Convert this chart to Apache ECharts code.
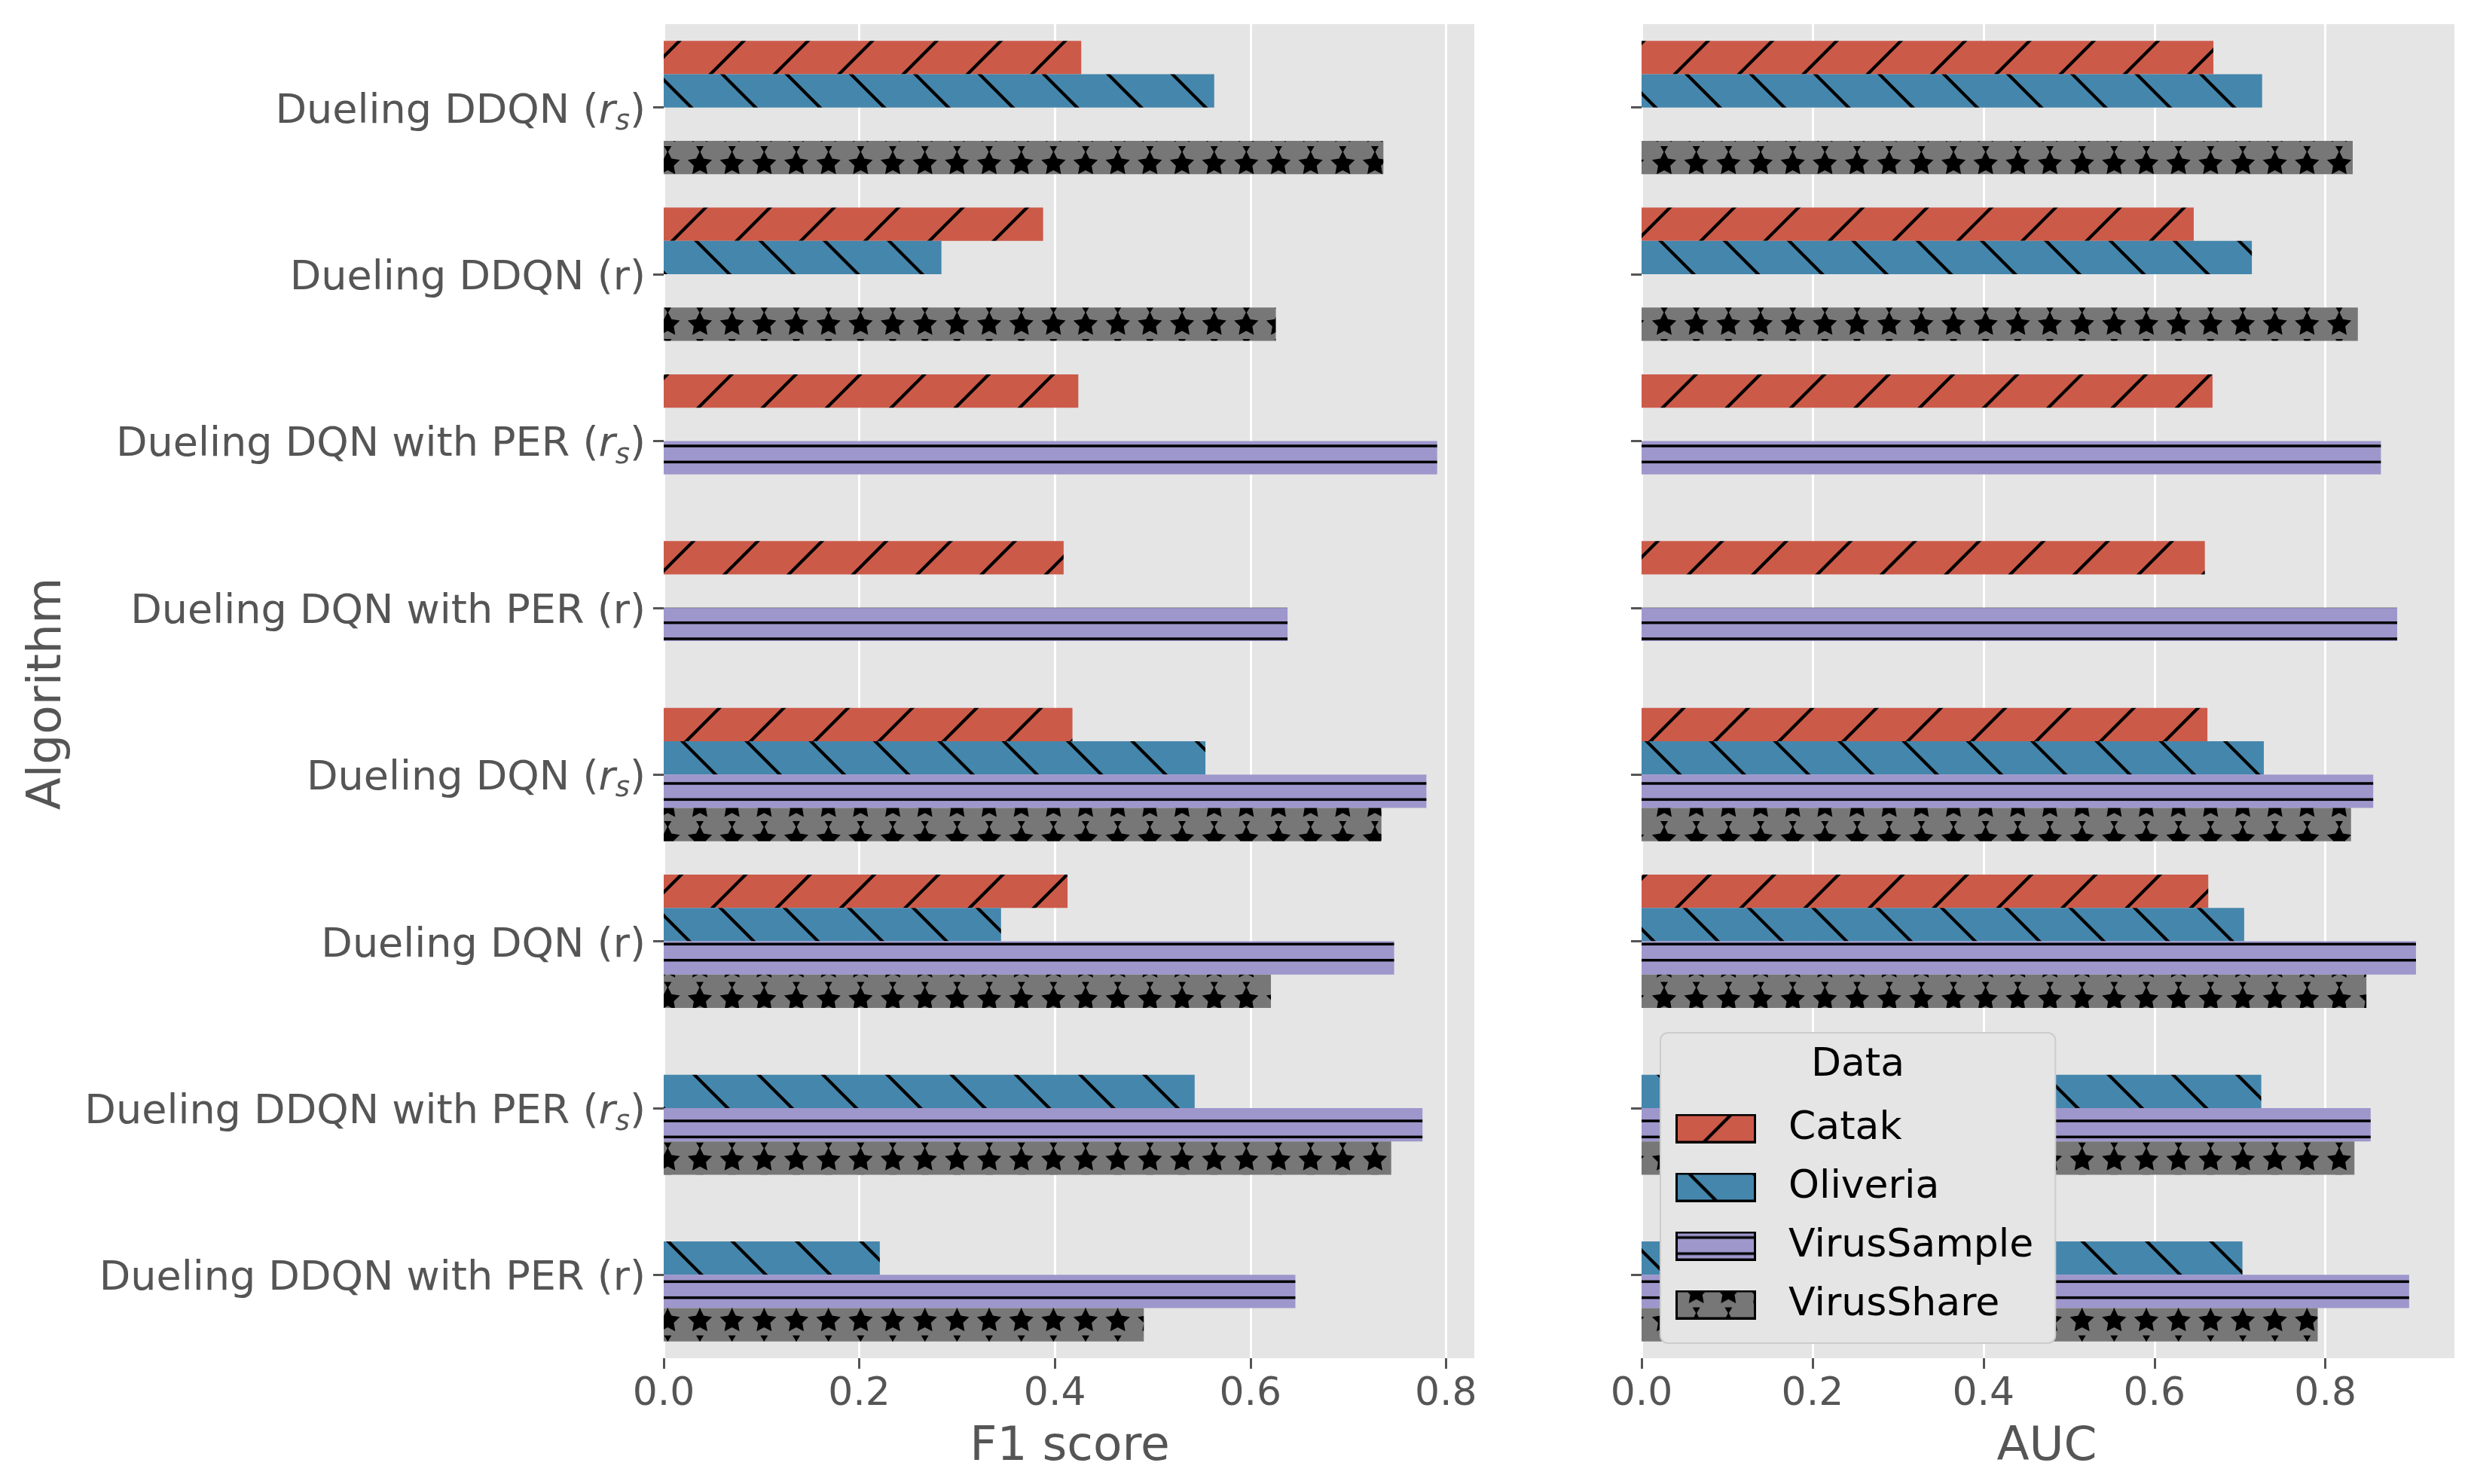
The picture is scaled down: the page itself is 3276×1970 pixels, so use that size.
<!DOCTYPE html>
<html><head><meta charset="utf-8">
<script src="https://cdn.jsdelivr.net/npm/echarts@6/dist/echarts.min.js"></script>
<style>html,body{margin:0;padding:0;background:#fff}#c{width:3276px;height:1970px}</style>
</head><body><div id="c"></div>
<script>
// ---------------- data ----------------
const categories = [
  'Dueling DDQN (r_s)',
  'Dueling DDQN (r)',
  'Dueling DQN with PER (r_s)',
  'Dueling DQN with PER (r)',
  'Dueling DQN (r_s)',
  'Dueling DQN (r)',
  'Dueling DDQN with PER (r_s)',
  'Dueling DDQN with PER (r)'
];
const datasetNames = ['Catak', 'Oliveria', 'VirusSample', 'VirusShare'];

const f1Catak       = [0.427, 0.388, 0.424, 0.409, 0.418, 0.413, null, null];
const f1Oliveria    = [0.563, 0.284, null, null, 0.554, 0.345, 0.543, 0.221];
const f1VirusSample = [null, null, 0.791, 0.638, 0.780, 0.747, 0.776, 0.646];
const f1VirusShare  = [0.736, 0.626, null, null, 0.734, 0.621, 0.744, 0.491];

const aucCatak       = [0.669, 0.646, 0.668, 0.659, 0.662, 0.663, null, null];
const aucOliveria    = [0.726, 0.714, null, null, 0.728, 0.705, 0.725, 0.703];
const aucVirusSample = [null, null, 0.865, 0.884, 0.856, 0.906, 0.853, 0.898];
const aucVirusShare  = [0.832, 0.838, null, null, 0.830, 0.848, 0.834, 0.791];

const f1Ticks  = [0, 0.2, 0.4, 0.6, 0.8];
const aucTicks = [0, 0.2, 0.4, 0.6, 0.8];

const xTitleLeft = 'F1 score';
const xTitleRight = 'AUC';
const yTitle = 'Algorithm';
const legendTitle = 'Data';

// ---------------- styling ----------------
const FONT = 'DejaVu Sans';
const colors = { Catak: '#CC5A49', Oliveria: '#4586AC', VirusSample: '#9E97CC', VirusShare: '#777777' };
const hatches = { Catak: '/', Oliveria: '\\', VirusSample: '-', VirusShare: '*' };

const T = 256;
const P_DIAG = T / 3, P_H = T / 12, P_STAR = T / 6;

function starPath(g, cx, cy, R, r) {
  g.beginPath();
  for (let i = 0; i < 10; i++) {
    const a = -Math.PI / 2 + i * Math.PI / 5;
    const rad = i % 2 === 0 ? R : r;
    const x = cx + rad * Math.cos(a), y = cy + rad * Math.sin(a);
    if (i === 0) g.moveTo(x, y); else g.lineTo(x, y);
  }
  g.closePath();
  g.fill();
}

function wedge(g, cx, yTop, yBot, halfW) {
  g.beginPath();
  g.moveTo(cx - halfW, yTop);
  g.lineTo(cx + halfW, yTop);
  g.lineTo(cx, yBot);
  g.closePath();
  g.fill();
}

function drawHatch(g, kind, w, h, ox, oy) {
  g.save();
  g.fillStyle = '#000';
  g.strokeStyle = '#000';
  if (kind === '/') {
    g.lineWidth = 4.2;
    const c0 = 17.5 - ox - oy;
    const kmin = Math.floor((-P_DIAG - c0) / P_DIAG) - 1;
    const kmax = Math.ceil((w + h + P_DIAG - c0) / P_DIAG) + 1;
    for (let k = kmin; k <= kmax; k++) {
      const c = c0 + k * P_DIAG;
      g.beginPath(); g.moveTo(c + 30, -30); g.lineTo(c - h - 30, h + 30); g.stroke();
    }
  } else if (kind === '\\') {
    g.lineWidth = 4.2;
    const c0 = 7 - ox + oy;
    const kmin = Math.floor((-h - P_DIAG - c0) / P_DIAG) - 1;
    const kmax = Math.ceil((w + P_DIAG - c0) / P_DIAG) + 1;
    for (let k = kmin; k <= kmax; k++) {
      const c = c0 + k * P_DIAG;
      g.beginPath(); g.moveTo(c - 30, -30); g.lineTo(c + h + 30, h + 30); g.stroke();
    }
  } else if (kind === '-') {
    const y0 = 16 - oy;
    const kmin = Math.floor((-P_H - y0) / P_H) - 1;
    const kmax = Math.ceil((h + P_H - y0) / P_H) + 1;
    for (let k = kmin; k <= kmax; k++) {
      const y = y0 + k * P_H;
      g.fillRect(0, y - 1.75, w, 3.5);
    }
  } else if (kind === '*') {
    const x0 = 33 - ox, y0 = 4.07 - oy;
    const R = 17;
    const imin = Math.floor((-P_STAR - x0) / P_STAR) - 1, imax = Math.ceil((w + P_STAR - x0) / P_STAR) + 1;
    const jmin = Math.floor((-P_STAR - y0) / P_STAR) - 1, jmax = Math.ceil((h + P_STAR - y0) / P_STAR) + 1;
    for (let i = imin; i <= imax; i++) {
      for (let j = jmin; j <= jmax; j++) {
        const cx = x0 + i * P_STAR, cy = y0 + j * P_STAR;
        starPath(g, cx, cy, R, R * 0.5);
        wedge(g, cx, cy - P_STAR / 2 - 2, cy - R + 2, 5);
      }
    }
  }
  g.restore();
}

function makeTile(name) {
  const c = document.createElement('canvas');
  c.width = T; c.height = T;
  const g = c.getContext('2d');
  g.fillStyle = colors[name];
  g.fillRect(0, 0, T, T);
  drawHatch(g, hatches[name], T, T, 0, 0);
  return c;
}

function makeIcon(name, ox, oy) {
  const w = 107, h = 39;
  const c = document.createElement('canvas');
  c.width = w; c.height = h;
  const g = c.getContext('2d');
  g.fillStyle = colors[name];
  g.fillRect(0, 0, w, h);
  g.save(); g.beginPath(); g.rect(0, 0, w, h); g.clip();
  drawHatch(g, hatches[name], w, h, ox, oy);
  g.restore();
  g.strokeStyle = '#000';
  g.lineWidth = 3;
  g.strokeRect(1.5, 1.5, w - 3, h - 3);
  return 'image://' + c.toDataURL();
}

const tiles = {};
datasetNames.forEach(n => { tiles[n] = makeTile(n); });

const legendLeft = 2204, legendTop = 1371;
const iconYs = [1473, 1551, 1629, 1707];
const legendData = datasetNames.map((n, i) => ({ name: n, icon: makeIcon(n, 2224, iconYs[i]) }));

function barSeries(name, data, idx) {
  return {
    type: 'bar', name, data,
    xAxisIndex: idx, yAxisIndex: idx,
    barGap: '0%', barCategoryGap: '20%',
    itemStyle: { color: { image: tiles[name], repeat: 'repeat' } },
    emphasis: { disabled: true },
    silent: true
  };
}

const grids = [
  { left: 881, top: 32, width: 1076, height: 1771 },
  { left: 2179, top: 32, width: 1079, height: 1771 }
];

function xAxis(idx, max, ticks) {
  return {
    type: 'value', gridIndex: idx, min: 0, max: max, interval: 0.2,
    axisLine: { show: false },
    axisTick: { show: true, length: 14, customValues: ticks, lineStyle: { color: '#555555', width: 3 } },
    axisLabel: {
      show: true, customValues: ticks, margin: 22, fontSize: 52, lineHeight: 52, fontFamily: FONT, color: '#555555',
      formatter: v => Number(v).toFixed(1)
    },
    splitLine: { show: true, lineStyle: { color: '#FFFFFF', width: 3 } }
  };
}

const richStyles = {
  it: { fontStyle: 'italic', fontSize: 54, fontFamily: FONT, color: '#555555' },
  sub: { fontStyle: 'italic', fontSize: 37, fontFamily: FONT, color: '#555555', padding: [27, 0, 0, 0] }
};

function yAxis(idx, showLabel) {
  return {
    type: 'category', gridIndex: idx, data: categories, inverse: true,
    axisLine: { show: false },
    axisTick: { show: true, alignWithLabel: true, length: 14, lineStyle: { color: '#555555', width: 3 } },
    axisLabel: {
      show: showLabel, margin: 24, fontSize: 54, fontFamily: FONT, color: '#555555',
      padding: [12, 0, 0, 0],
      formatter: v => v.replace('(r_s)', '({it|r}{sub|s})'),
      rich: richStyles
    },
    splitLine: { show: false }
  };
}

const chart = echarts.init(document.getElementById('c'), null, { renderer: 'canvas' });
chart.setOption({
  animation: false,
  backgroundColor: '#FFFFFF',
  textStyle: { fontFamily: FONT },
  grid: grids.map(g => Object.assign({
    show: true, backgroundColor: '#E5E5E5', borderWidth: 0, containLabel: false, outerBoundsMode: 'none'
  }, g)),
  xAxis: [xAxis(0, 0.829, f1Ticks), xAxis(1, 0.951, aucTicks)],
  yAxis: [yAxis(0, true), yAxis(1, false)],
  legend: {
    show: true, orient: 'vertical', left: legendLeft, top: legendTop,
    data: legendData, itemWidth: 107, itemHeight: 39, itemGap: 26,
    padding: [101, 29, 25, 20],
    backgroundColor: '#E5E5E5', borderColor: '#CCCCCC', borderWidth: 2, borderRadius: 10,
    selectedMode: false,
    textStyle: { fontSize: 52, fontFamily: FONT, color: '#000000', lineHeight: 39, padding: [0, 0, 0, 38] }
  },
  series: [
    barSeries('Catak', f1Catak, 0),
    barSeries('Oliveria', f1Oliveria, 0),
    barSeries('VirusSample', f1VirusSample, 0),
    barSeries('VirusShare', f1VirusShare, 0),
    barSeries('Catak', aucCatak, 1),
    barSeries('Oliveria', aucOliveria, 1),
    barSeries('VirusSample', aucVirusSample, 1),
    barSeries('VirusShare', aucVirusShare, 1)
  ],
  graphic: [
    { type: 'text', x: 1420, y: 1922, z: 100, style: { text: xTitleLeft, font: '63px "DejaVu Sans"', fill: '#555555', align: 'center', verticalAlign: 'middle' } },
    { type: 'text', x: 2717, y: 1922, z: 100, style: { text: xTitleRight, font: '63px "DejaVu Sans"', fill: '#555555', align: 'center', verticalAlign: 'middle' } },
    { type: 'text', x: 64, y: 921, rotation: Math.PI / 2, z: 100, style: { text: yTitle, font: '63px "DejaVu Sans"', fill: '#555555', align: 'center', verticalAlign: 'middle' } },
    { type: 'text', x: 2466, y: 1414, z: 100, style: { text: legendTitle, font: '52px "DejaVu Sans"', fill: '#000000', align: 'center', verticalAlign: 'middle' } }
  ]
});
</script>
</body></html>
